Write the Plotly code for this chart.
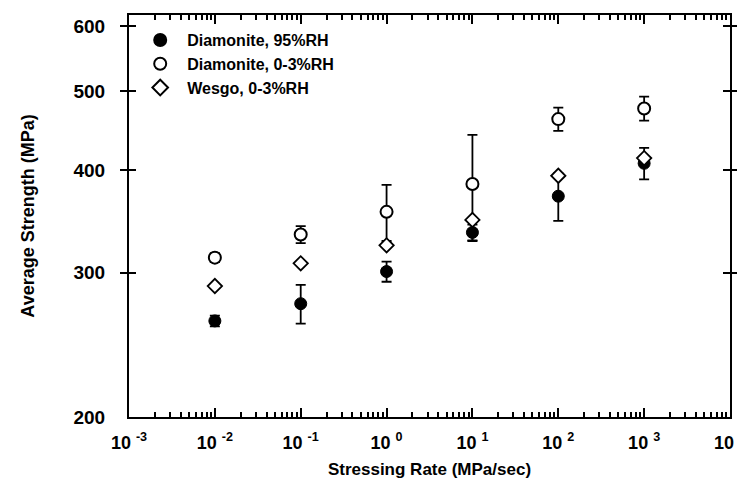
import plotly.graph_objects as go
import numpy as np

rates = [1e-2, 1e-1, 1e0, 1e1, 1e2, 1e3]

dia95_vals = [262, 275, 301, 336, 372, 408]
dia95_err = [4, 15, 8.5, 7.5, 25, 18]

dia03_vals = [313, 334, 356, 385, 462, 476]
dia03_err = [4, 8, 28, 57, 15, 16]

wesgo_vals = [289, 308, 324, 348, 394, 414]

x_tickvals = [1e-3, 1e-2, 1e-1, 1e0, 1e1, 1e2, 1e3, 1e4]
x_ticktext = ["10 <sup>-3</sup>", "10 <sup>-2</sup>", "10 <sup>-1</sup>", "10 <sup>0</sup>",
              "10 <sup>1</sup>", "10 <sup>2</sup>", "10 <sup>3</sup>", "10 <sup>4</sup>"]
x_minorvals = [k * 10.0 ** d for d in range(-3, 4) for k in range(2, 10)]
y_tickvals = [200, 300, 400, 500, 600]
y_ticktext = ["200", "300", "400", "500", "600"]

FONT = "Arial, Liberation Sans, sans-serif"

fig = go.Figure()
fig.add_trace(go.Scatter(
    x=rates, y=dia95_vals, mode="markers", name="Diamonite, 95%RH", legendgroup="a",
    marker=dict(symbol="circle", size=12, color="black", line=dict(color="black", width=1)),
    error_y=dict(type="data", array=dia95_err, visible=True, color="black", thickness=1.8, width=5),
))
fig.add_trace(go.Scatter(
    x=rates, y=dia03_vals, mode="markers", name="Diamonite, 0-3%RH", legendgroup="b",
    marker=dict(symbol="circle", size=12, color="white", line=dict(color="black", width=2)),
    error_y=dict(type="data", array=dia03_err, visible=True, color="black", thickness=1.8, width=5),
))
fig.add_trace(go.Scatter(
    x=rates, y=wesgo_vals, mode="markers", name="Wesgo, 0-3%RH", legendgroup="c",
    marker=dict(symbol="diamond", size=11, color="white", line=dict(color="black", width=1.8)),
))
# invisible helper trace so the top tick axis is drawn
fig.add_trace(go.Scatter(
    x=rates, y=wesgo_vals, xaxis="x2", mode="markers", showlegend=False, hoverinfo="skip",
    marker=dict(size=1, opacity=0),
))

x_range = [-3, 4]
minor_x = dict(tickmode="array", tickvals=x_minorvals, ticks="inside", ticklen=5,
               tickwidth=1.5, tickcolor="black", showgrid=False)

fig.update_layout(
    width=745, height=482,
    margin=dict(l=121, r=23, t=5, b=73),
    paper_bgcolor="white", plot_bgcolor="white",
    font=dict(family=FONT, color="black"),
    showlegend=True,
    legend=dict(x=0.007, y=0.98, xanchor="left", yanchor="top", bgcolor="rgba(0,0,0,0)",
                font=dict(family=FONT, size=16, weight="bold"), tracegroupgap=0,
                itemsizing="constant", itemwidth=44),
    xaxis=dict(
        type="log", range=x_range, tickmode="array", tickvals=x_tickvals, ticktext=x_ticktext,
        ticks="inside", ticklen=9, tickwidth=2, tickcolor="black",
        showline=True, linecolor="black", linewidth=2, mirror="allticks",
        showgrid=False, zeroline=False, ticklabeloverflow="allow", ticklabelstandoff=8,
        tickfont=dict(family=FONT, size=18, weight="bold"),
        minor=minor_x,
        title=dict(text="Stressing Rate (MPa/sec)", font=dict(family=FONT, size=17, weight="bold"), standoff=12),
    ),
    xaxis2=dict(
        overlaying="x", side="top", anchor="y", type="log", range=x_range,
        tickmode="array", tickvals=x_tickvals, showticklabels=False,
        ticks="inside", ticklen=9, tickwidth=2, tickcolor="black",
        showline=False, showgrid=False, zeroline=False,
        minor=minor_x,
    ),
    yaxis=dict(
        type="log", range=[np.log10(200), np.log10(619)], tickmode="array",
        tickvals=y_tickvals, ticktext=y_ticktext,
        ticks="inside", ticklen=7, tickwidth=2, tickcolor="black",
        showline=True, linecolor="black", linewidth=2, mirror="allticks",
        showgrid=False, zeroline=False, ticklabelstandoff=18,
        tickfont=dict(family=FONT, size=19, weight="bold"),
        title=dict(text="Average Strength (MPa)", font=dict(family=FONT, size=18, weight="bold"), standoff=34),
    ),
)

fig.write_html("out.html")
